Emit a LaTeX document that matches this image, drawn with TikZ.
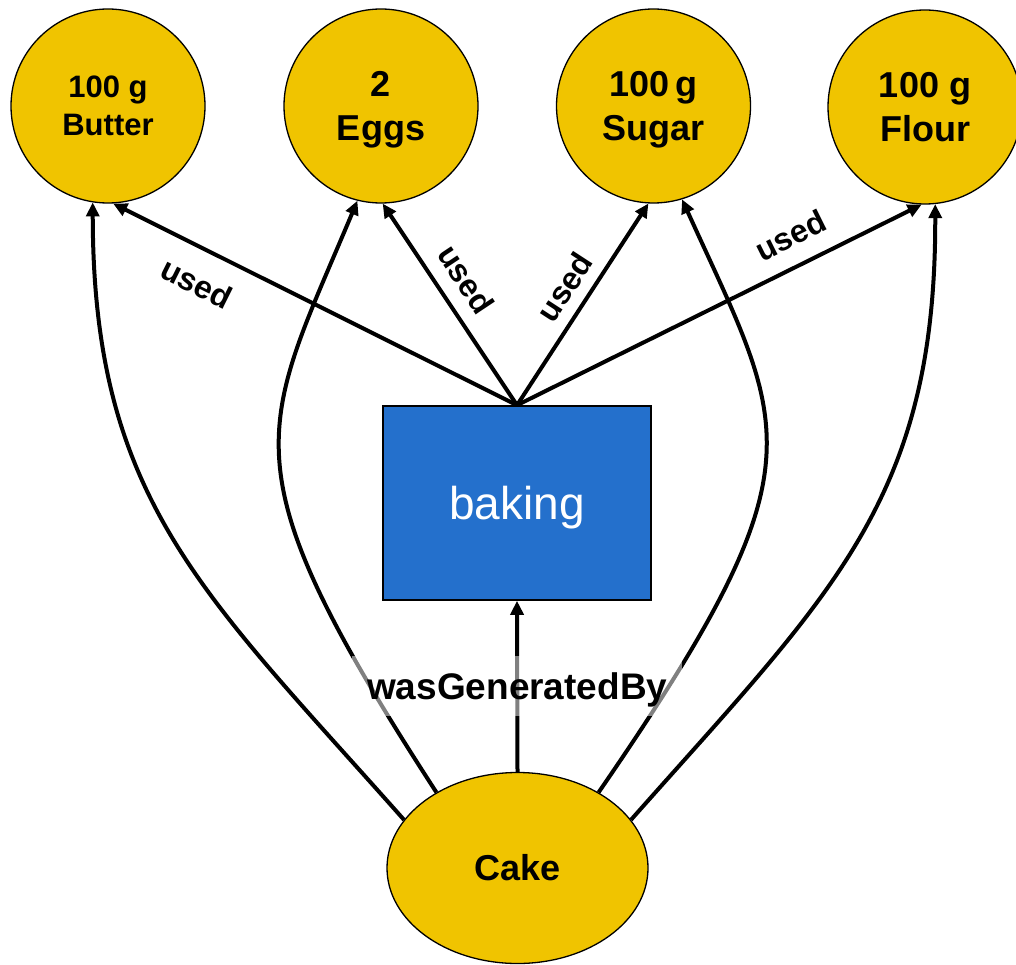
\documentclass[tikz,border=0pt]{standalone}
\usepackage{fontspec}
\setmainfont{Liberation Sans}
\usetikzlibrary{shapes.geometric,arrows.meta}
\definecolor{ingredientfill}{RGB}{240,196,0}
\definecolor{processfill}{RGB}{36,112,204}

\begin{document}
\begin{tikzpicture}[x=1pt,y=-1pt,
  ingredient/.style={circle,draw=black,line width=1.3pt,fill=ingredientfill,
    minimum size=194pt,inner sep=0pt,align=center},
  product/.style={ellipse,draw=black,line width=1.3pt,fill=ingredientfill,
    minimum width=261pt,minimum height=191pt,inner sep=0pt,
    font=\fontsize{36}{43}\selectfont\bfseries},
  process/.style={rectangle,draw=black,line width=1.6pt,fill=processfill,
    minimum width=268pt,minimum height=194pt,inner sep=0pt,text=white,
    text depth=0pt,font=\fontsize{46}{55}\selectfont},
  link/.style={line width=4pt,-{Triangle[length=14pt,width=13pt]}},
  usedlabel/.style={sloped,inner xsep=2pt,font=\fontsize{32}{38}\selectfont\bfseries},
  genlabel/.style={fill=white,fill opacity=0.5,text opacity=1,
    minimum width=330pt,minimum height=60pt,inner sep=0pt,text depth=0pt,
    font=\fontsize{37}{44}\selectfont\bfseries},
]
\useasboundingbox (0,0) rectangle (1016,965);

% ingredients
\node[ingredient,font=\fontsize{31}{38}\selectfont\bfseries] (butter) at (108,106) {100 g\\Butter};
\node[ingredient,text depth=0pt,font=\fontsize{36}{44}\selectfont\bfseries] (eggs) at (381,106) {2\\Eggs};
\node[ingredient,text depth=0pt,font=\fontsize{36}{44}\selectfont\bfseries] (sugar) at (653.5,106) {100\,g\\Sugar};
\node[ingredient,font=\fontsize{36}{44}\selectfont\bfseries] (flour) at (925,107) {100 g\\Flour};

% activity and product
\node[process] (baking) at (517,503) {baking};
\node[product] (cake) at (517.5,868) {Cake};

% derivation of the cake from each ingredient
\draw[link] (cake.157) .. controls (203,593) and (93,500) .. (butter.261);
\draw[link] (cake.137) .. controls (222,462) and (260,433) .. (eggs.256);
\draw[link] (cake.43) .. controls (826,462) and (788,433) .. (sugar.287);
\draw[link] (cake.23) .. controls (832,593) and (936,500) .. (flour.276);

% usage by the baking activity
\draw[link] (baking.north) -- node[usedlabel,below,inner ysep=20pt,pos=0.755] {used} (butter.273);
\draw[link] (baking.north) -- node[usedlabel,above,inner ysep=14pt,pos=0.55] {used} (eggs.271);
\draw[link] (baking.north) -- node[usedlabel,above,inner ysep=11pt,pos=0.52] {used} (sugar.267);
\draw[link] (baking.north) -- node[usedlabel,above,inner ysep=17pt,pos=0.71] {used} (flour.268);

% generation of the cake
\draw[link] (cake.north) -- node[genlabel] {wasGeneratedBy} (baking.south);
\end{tikzpicture}
\end{document}
